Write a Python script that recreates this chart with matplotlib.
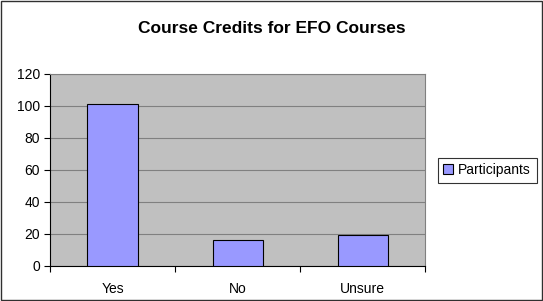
import matplotlib
matplotlib.use("Agg")
import matplotlib.pyplot as plt
from matplotlib.patches import Rectangle

categories = ["Yes", "No", "Unsure"]
participants = [101, 16, 19]
y_ticks = [0, 20, 40, 60, 80, 100, 120]

plt.rcParams['font.family'] = ['Liberation Sans', 'DejaVu Sans']

fig = plt.figure(figsize=(5.43, 3.01), dpi=100)
fig.patches.append(Rectangle((0.002, 0.003), 0.996, 0.994, transform=fig.transFigure,
                             fill=False, edgecolor="#303030", linewidth=1.0))

ax = fig.add_axes([0.092, 0.117, 0.691, 0.638])
ax.set_facecolor("#C0C0C0")

x = list(range(len(categories)))
ax.bar(x, participants, width=0.4, color="#9999FF", edgecolor="black",
       linewidth=0.8, label="Participants", zorder=3)

ax.set_xlim(-0.5, len(categories) - 0.5)
ax.set_ylim(0, 120)
ax.set_yticks(y_ticks)
ax.yaxis.grid(True, color="#808080", linewidth=0.8, zorder=0)
ax.set_axisbelow(True)

ax.set_xticks([i - 0.5 for i in range(len(categories) + 1)])
ax.set_xticklabels([])
ax.set_xticks(x, minor=True)
ax.set_xticklabels(categories, minor=True)
ax.tick_params(axis="x", which="minor", length=0, pad=12, labelsize=10)
ax.tick_params(axis="x", which="major", length=4, direction="out", color="black")
ax.tick_params(axis="y", length=4, direction="out", labelsize=10, pad=3)

for s in ["top", "right"]:
    ax.spines[s].set_color("#808080")
for s in ["left", "bottom"]:
    ax.spines[s].set_color("black")

fig.text(0.5, 0.905, "Course Credits for EFO Courses", ha="center", va="center",
         fontsize=12.5, fontweight="bold")

leg = fig.legend(loc="center", bbox_to_anchor=(0.897, 0.435), fontsize=10,
                 frameon=True, fancybox=False, edgecolor="black",
                 handlelength=0.7, handleheight=0.7, handletextpad=0.4,
                 borderpad=0.4, borderaxespad=0)
leg.get_frame().set_linewidth(0.8)

fig.savefig("out.png", dpi=100)
